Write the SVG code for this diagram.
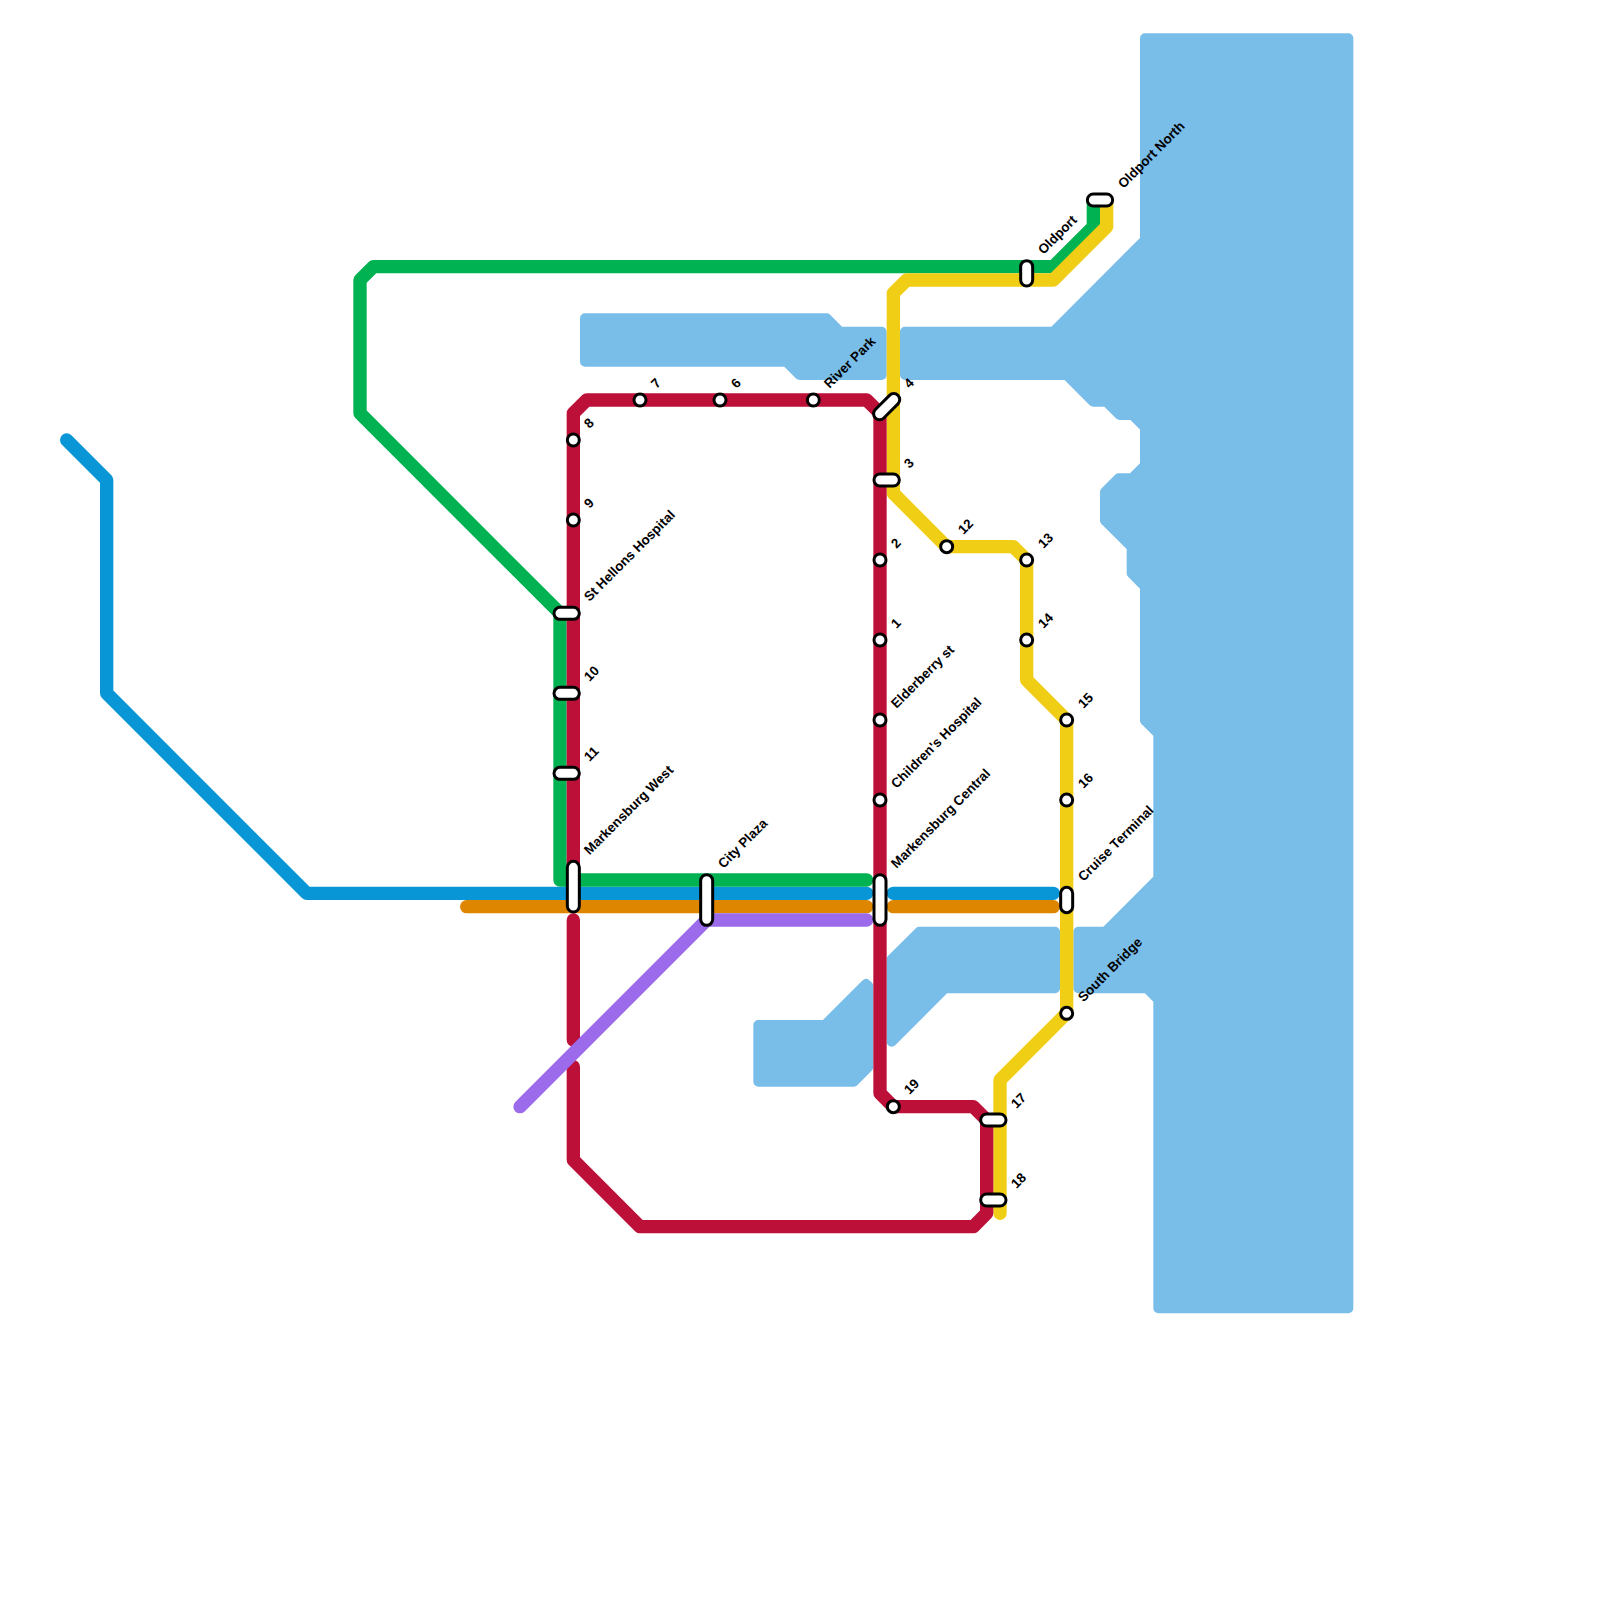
<svg xmlns="http://www.w3.org/2000/svg" width="1600" height="1600" viewBox="0 0 1600 1600">
<style>
.water{fill:#79bde9;stroke:#79bde9;stroke-width:10;stroke-linejoin:round}
.ln{fill:none;stroke-width:13.33;stroke-linecap:round;stroke-linejoin:round}
.st{fill:#fff;stroke:#000;stroke-width:3}
.lb{font-family:"Liberation Sans",Arial,sans-serif;font-size:13.4px;font-weight:700;fill:#000}
</style>
<rect width="1600" height="1600" fill="#fff"/>
<g id="water">
<polygon class="water" points="1145,38.33 1348.33,38.33 1348.33,1308.33 1158.33,1308.33 1158.33,999.6 1147,988.33 1078.33,988.33 1078.33,931.67 1105.4,931.67 1158.33,878.7 1158.33,733.7 1145,720.4 1145,586.6 1131.67,573.3 1131.67,547 1105,520.4 1105,492 1118.7,478.33 1132,478.33 1145,465.4 1145,427.5 1132.5,415 1119.7,415 1106.4,401.67 1093.3,401.67 1066.6,375 905,375 905,331.67 1053.4,331.67 1145,240"/>
<polygon class="water" points="585,318.33 826.6,318.33 840,331.67 881.67,331.67 881.67,375 799.6,375 786.3,361.67 585,361.67"/>
<polygon class="water" points="758.33,1025 825,1025 866,984 868.33,986 868.33,1067 853.7,1081.67 758.33,1081.67"/>
<polygon class="water" points="891.67,959.4 919.4,931.67 1055,931.67 1055,988.33 945,988.33 891.67,1041.8"/>
</g>
<g id="connectors">
<path class="ln" stroke="#0896d7" d="M66.67 440L106.67 480V693.33L306.67 893.33H866.67M893.33 893.33H1053.33"/>
<path class="ln" stroke="#df8600" d="M466.67 906.67H866.67M893.33 906.67H1053.33"/>
<path class="ln" stroke="#00b251" d="M1093.33 200V226.67L1053.33 266.67H373.33L360 280V413.33L560 613.33V880H866.67"/>
<path class="ln" stroke="#f0ce15" d="M1106.67 200V226.67L1053.33 280H906.67L893.33 293.33V493.33L946.67 546.67H1013.33L1026.67 560V680L1066.67 720V1013.33L1000 1080V1213.33"/>
<path class="ln" stroke="#bd1038" d="M573.33 880V413.33L586.67 400H866.67L880 413.33V1093.33L893.33 1106.67H973.33L986.67 1120V1213.33L973.33 1226.67H640L573.33 1160V1066.67M573.33 1040V920"/>
<path class="ln" stroke="#9b6bec" d="M520 1106.67L706.67 920H866.67"/>
</g>
<g id="st-7"><circle class="st" cx="640" cy="400" r="6"/><text class="lb" transform="translate(656.5,389) rotate(-45)">7</text></g>
<g id="st-6"><circle class="st" cx="720" cy="400" r="6"/><text class="lb" transform="translate(736.5,389) rotate(-45)">6</text></g>
<g id="st-river-park"><circle class="st" cx="813.33" cy="400" r="6"/><text class="lb" transform="translate(829.5,389) rotate(-45)">River Park</text></g>
<g id="st-8"><circle class="st" cx="573.33" cy="440" r="6"/><text class="lb" transform="translate(589.5,429) rotate(-45)">8</text></g>
<g id="st-9"><circle class="st" cx="573.33" cy="520" r="6"/><text class="lb" transform="translate(589.5,509) rotate(-45)">9</text></g>
<g id="st-st-hellons"><rect class="st" x="554" y="607.33" width="25.33" height="12" rx="6"/><text class="lb" transform="translate(589.5,602) rotate(-45)">St Hellons Hospital</text></g>
<g id="st-10"><rect class="st" x="554" y="687.33" width="25.33" height="12" rx="6"/><text class="lb" transform="translate(589.5,682) rotate(-45)">10</text></g>
<g id="st-11"><rect class="st" x="554" y="767.33" width="25.33" height="12" rx="6"/><text class="lb" transform="translate(589.5,762) rotate(-45)">11</text></g>
<g id="st-markensburg-west"><rect class="st" x="567.33" y="861.33" width="12" height="50.67" rx="6"/><text class="lb" transform="translate(589.5,855.5) rotate(-45)">Markensburg West</text></g>
<g id="st-city-plaza"><rect class="st" x="700.67" y="874.67" width="12" height="50.67" rx="6"/><text class="lb" transform="translate(723.5,869) rotate(-45)">City Plaza</text></g>
<g id="st-markensburg-central"><rect class="st" x="874" y="874.67" width="12" height="50.67" rx="6"/><text class="lb" transform="translate(896.5,869) rotate(-45)">Markensburg Central</text></g>
<g id="st-4"><rect class="st" x="870.67" y="400.67" width="32" height="12" rx="6" transform="rotate(-45 886.67 406.67)"/><text class="lb" transform="translate(909.5,389) rotate(-45)">4</text></g>
<g id="st-3"><rect class="st" x="874" y="474" width="25.33" height="12" rx="6"/><text class="lb" transform="translate(909.5,469) rotate(-45)">3</text></g>
<g id="st-2"><circle class="st" cx="880" cy="560" r="6"/><text class="lb" transform="translate(896.5,549) rotate(-45)">2</text></g>
<g id="st-1"><circle class="st" cx="880" cy="640" r="6"/><text class="lb" transform="translate(896.5,629) rotate(-45)">1</text></g>
<g id="st-elderberry"><circle class="st" cx="880" cy="720" r="6"/><text class="lb" transform="translate(896.5,709) rotate(-45)">Elderberry st</text></g>
<g id="st-childrens"><circle class="st" cx="880" cy="800" r="6"/><text class="lb" transform="translate(896.5,789) rotate(-45)">Children's Hospital</text></g>
<g id="st-19"><circle class="st" cx="893.33" cy="1106.67" r="6"/><text class="lb" transform="translate(909.5,1095) rotate(-45)">19</text></g>
<g id="st-12"><circle class="st" cx="946.67" cy="546.67" r="6"/><text class="lb" transform="translate(963.5,535) rotate(-45)">12</text></g>
<g id="st-13"><circle class="st" cx="1026.67" cy="560" r="6"/><text class="lb" transform="translate(1043.5,549) rotate(-45)">13</text></g>
<g id="st-14"><circle class="st" cx="1026.67" cy="640" r="6"/><text class="lb" transform="translate(1043.5,629) rotate(-45)">14</text></g>
<g id="st-15"><circle class="st" cx="1066.67" cy="720" r="6"/><text class="lb" transform="translate(1083.5,709) rotate(-45)">15</text></g>
<g id="st-16"><circle class="st" cx="1066.67" cy="800" r="6"/><text class="lb" transform="translate(1083.5,789) rotate(-45)">16</text></g>
<g id="st-cruise"><rect class="st" x="1060.67" y="887.33" width="12" height="25.33" rx="6"/><text class="lb" transform="translate(1083.5,882) rotate(-45)">Cruise Terminal</text></g>
<g id="st-south-bridge"><circle class="st" cx="1066.67" cy="1013.33" r="6"/><text class="lb" transform="translate(1083.5,1002.5) rotate(-45)">South Bridge</text></g>
<g id="st-17"><rect class="st" x="980.67" y="1114" width="25.33" height="12" rx="6"/><text class="lb" transform="translate(1016.5,1109) rotate(-45)">17</text></g>
<g id="st-18"><rect class="st" x="980.67" y="1194" width="25.33" height="12" rx="6"/><text class="lb" transform="translate(1016.5,1189) rotate(-45)">18</text></g>
<g id="st-oldport"><rect class="st" x="1020.67" y="260.67" width="12" height="25.33" rx="6"/><text class="lb" transform="translate(1043.5,255) rotate(-45)">Oldport</text></g>
<g id="st-oldport-north"><rect class="st" x="1087.33" y="194" width="25.33" height="12" rx="6"/><text class="lb" transform="translate(1123.5,189) rotate(-45)">Oldport North</text></g>
</svg>
